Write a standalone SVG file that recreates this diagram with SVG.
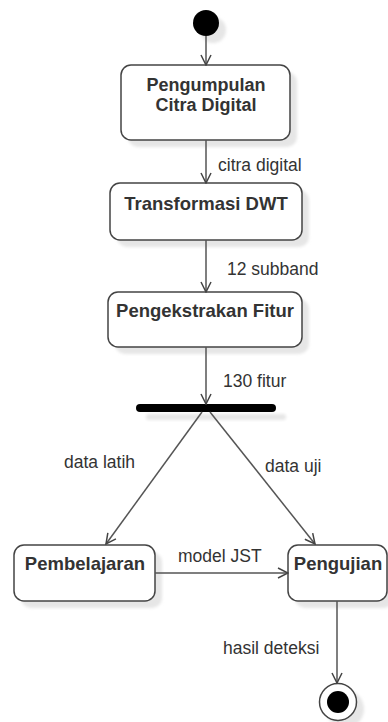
<svg xmlns="http://www.w3.org/2000/svg" width="388" height="722" viewBox="0 0 388 722">
<defs>
<filter id="blur" x="-20%" y="-20%" width="140%" height="140%"><feGaussianBlur stdDeviation="1.5"/></filter>
<marker id="arr" viewBox="0 0 12 12" refX="11" refY="6" markerWidth="12" markerHeight="12" markerUnits="userSpaceOnUse" orient="auto">
<path d="M1,1 L11,6 L1,11" fill="none" stroke="#444" stroke-width="1.5"/>
</marker>
</defs>
<style>
.box{fill:#fff;stroke:#444;stroke-width:1.5}
.sh{fill:#e6e6e6;filter:url(#blur)}
.t{font-family:"Liberation Sans",Arial,sans-serif;font-weight:bold;font-size:18.5px;fill:#333;text-anchor:middle}
.l{font-family:"Liberation Sans",Arial,sans-serif;font-size:17.5px;fill:#333}
.c{stroke:#555;stroke-width:1.5;fill:none;marker-end:url(#arr)}
</style>
<rect width="388" height="722" fill="#fff"/>

<g id="start">
<circle cx="213" cy="30" r="13" class="sh"/>
<circle cx="206" cy="23" r="13" fill="#000"/>
</g>

<g id="n1">
<rect x="128" y="72" width="169" height="75" rx="10" class="sh"/>
<rect x="121" y="65" width="169" height="75" rx="10" class="box"/>
<text x="206" y="91" class="t" style="font-size:18px">Pengumpulan</text>
<text x="206" y="111" class="t" style="font-size:18px">Citra Digital</text>
</g>

<g id="n2">
<rect x="117" y="190" width="192" height="57" rx="10" class="sh"/>
<rect x="110" y="183" width="192" height="57" rx="10" class="box"/>
<text x="206" y="210" class="t">Transformasi DWT</text>
</g>

<g id="n3">
<rect x="115" y="299" width="194" height="55" rx="10" class="sh"/>
<rect x="108" y="292" width="194" height="55" rx="10" class="box"/>
<text x="205" y="317" class="t">Pengekstrakan Fitur</text>
</g>

<g id="fork">
<rect x="146" y="414" width="140" height="6" rx="3" class="sh"/>
<rect x="136" y="404" width="140" height="8" rx="4" fill="#000"/>
</g>

<g id="n4">
<rect x="21" y="552" width="141" height="56" rx="10" class="sh"/>
<rect x="14" y="545" width="141" height="56" rx="10" class="box"/>
<text x="85" y="570" class="t">Pembelajaran</text>
</g>

<g id="n5">
<rect x="295" y="552" width="99" height="56" rx="10" class="sh"/>
<rect x="288" y="545" width="99" height="56" rx="10" class="box"/>
<text x="338" y="570" class="t">Pengujian</text>
</g>

<g id="end">
<circle cx="345" cy="709" r="19" class="sh"/>
<circle cx="338" cy="702" r="18.5" fill="#fff" stroke="#444" stroke-width="1.5"/>
<circle cx="338" cy="702" r="11" fill="#000"/>
</g>

<g id="connectors">
<line x1="206" y1="36" x2="206" y2="65" class="c"/>
<line x1="206" y1="140" x2="206" y2="183" class="c"/>
<line x1="206" y1="240" x2="206" y2="292" class="c"/>
<line x1="206" y1="347" x2="206" y2="404" class="c"/>
<line x1="202" y1="412" x2="106" y2="544" class="c"/>
<line x1="210" y1="412" x2="315" y2="544" class="c"/>
<line x1="155" y1="573" x2="288" y2="573" class="c"/>
<line x1="337" y1="601" x2="337" y2="683" class="c"/>
<text x="218" y="171" class="l">citra digital</text>
<text x="227" y="275" class="l">12 subband</text>
<text x="223" y="387" class="l">130 fitur</text>
<text x="64" y="468" class="l">data latih</text>
<text x="265" y="472" class="l">data uji</text>
<text x="178" y="562" class="l">model JST</text>
<text x="223" y="654" class="l">hasil deteksi</text>
</g>
</svg>
